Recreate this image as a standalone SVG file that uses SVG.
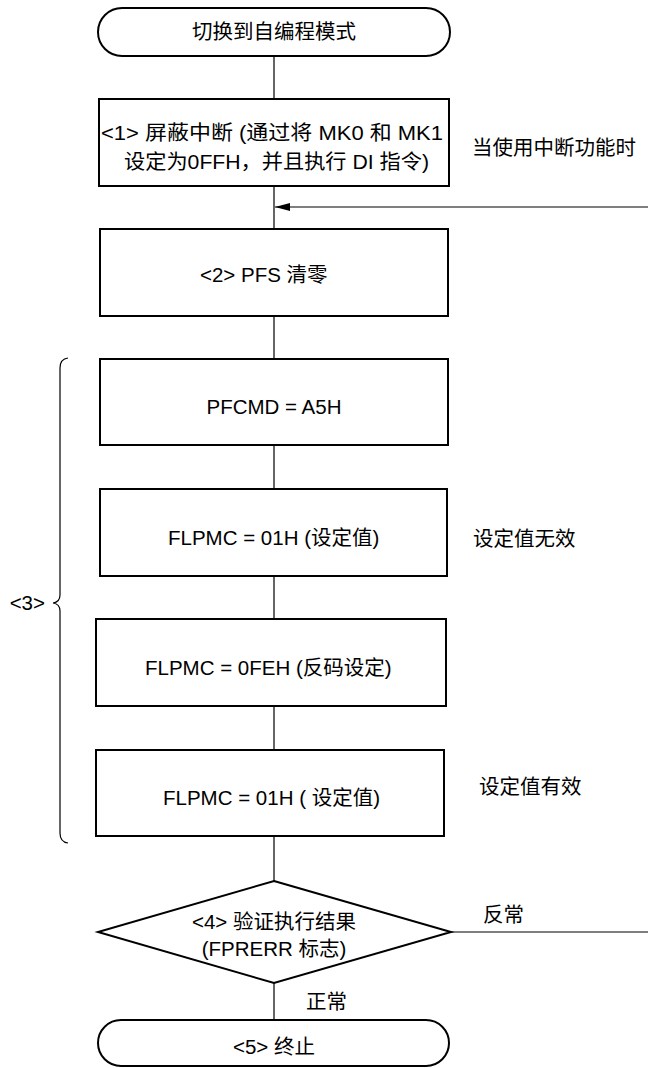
<svg xmlns="http://www.w3.org/2000/svg" width="648" height="1068" viewBox="0 0 648 1068">
<style>
.bx{fill:#fff;stroke:#000;stroke-width:2}
.ln{fill:none;stroke:#000;stroke-width:1.2}
text{font-family:"Liberation Sans","Noto Sans CJK SC",sans-serif;font-size:20.5px;fill:#000}
.c{text-anchor:middle}
</style>
<defs>
<marker id="ah" markerWidth="16" markerHeight="10" refX="15" refY="5" orient="auto" markerUnits="userSpaceOnUse">
<path d="M0,1 L15,5 L0,9 Z" fill="#000"/>
</marker>
</defs>
<rect width="648" height="1068" fill="#fff"/>
<g id="connectors">
<path class="ln" d="M274,56 V99 M274,186 V229 M274,316 V359 M274,445 V489 M274,576 V619 M274,706 V750 M274,836 V881 M274,983 V1020"/>
<path class="ln" d="M648,207 H275" marker-end="url(#ah)"/>
<path class="ln" d="M451,932 H648"/>
<path class="ln" d="M68,358 Q60,359 60,368 V595 Q60,602 53,603 Q60,604 60,611 V833 Q60,842 68,843"/>
</g>
<g id="start">
<rect class="bx" x="98" y="8" width="352" height="48" rx="24" ry="24" stroke-width="1.6"/>
<text class="c" x="274" y="39">切换到自编程模式</text>
</g>
<g id="step1">
<rect class="bx" x="99" y="99" width="350" height="87"/>
<text x="101" y="140" textLength="342" lengthAdjust="spacingAndGlyphs">&lt;1&gt; 屏蔽中断 (通过将  MK0 和  MK1</text>
<text x="124" y="169" textLength="305" lengthAdjust="spacingAndGlyphs">设定为0FFH，并且执行 DI 指令)</text>
</g>
<text id="note1" x="472" y="155">当使用中断功能时</text>
<g id="step2">
<rect class="bx" x="100" y="229" width="348" height="87"/>
<text x="200" y="282">&lt;2&gt; PFS 清零</text>
</g>
<g id="step3a">
<rect class="bx" x="100" y="359" width="348" height="86"/>
<text class="c" x="274" y="414">PFCMD = A5H</text>
</g>
<g id="step3b">
<rect class="bx" x="100" y="489" width="347" height="87"/>
<text x="168" y="545">FLPMC = 01H (设定值)</text>
</g>
<text id="note2" x="473" y="546">设定值无效</text>
<g id="step3c">
<rect class="bx" x="96" y="619" width="350" height="87"/>
<text x="145" y="675">FLPMC = 0FEH (反码设定)</text>
</g>
<g id="step3d">
<rect class="bx" x="96" y="750" width="348" height="86"/>
<text x="163" y="805">FLPMC = 01H ( 设定值)</text>
</g>
<text id="note3" x="479" y="794">设定值有效</text>
<text id="label3" x="45" y="610" text-anchor="end">&lt;3&gt;</text>
<g id="step4">
<polygon class="bx" points="274,881 451,932 274,983 98,932"/>
<text class="c" x="274" y="929">&lt;4&gt; 验证执行结果</text>
<text class="c" x="274" y="956">(FPRERR 标志)</text>
</g>
<text id="abnormal" x="483" y="922">反常</text>
<text id="normal" x="306" y="1009">正常</text>
<g id="end">
<rect class="bx" x="98" y="1020" width="351" height="46" rx="23" ry="23" stroke-width="1.6"/>
<text class="c" x="274" y="1054">&lt;5&gt; 终止</text>
</g>
</svg>
